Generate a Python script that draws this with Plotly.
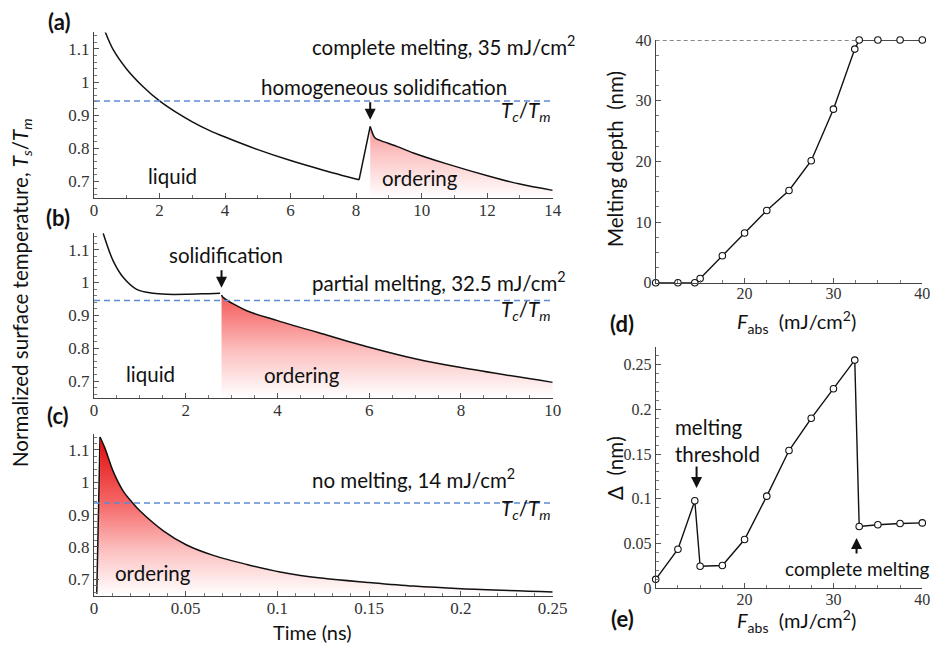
import plotly.graph_objects as go

# page body has an 8 px margin, so the figure is drawn 8 px in from the top-left corner
OFF = 8
W, H = 930, 640

# ---------------- data ----------------
# (a) complete melting
a_liq_t = [0.34, 0.59, 1.0, 1.5, 2.0, 2.5, 3.0, 3.5, 4.0, 5.0, 6.0, 7.0, 8.09]
a_liq_v = [1.152, 1.097, 1.039, 0.986, 0.943, 0.909, 0.880, 0.855, 0.834, 0.796, 0.763, 0.734, 0.705]
a_jump_t = [8.09, 8.43]
a_jump_v = [0.705, 0.866]
a_ord_t = [8.43, 8.58, 8.73, 9.24, 9.75, 10.77, 12.09, 13.0, 14.0]
a_ord_v = [0.866, 0.831, 0.824, 0.806, 0.786, 0.753, 0.715, 0.692, 0.673]
a_tc = 0.943

# (b) partial melting
b_liq_t = [0.2, 0.42, 0.64, 0.93, 1.29, 1.58, 2.0, 2.5, 2.75]
b_liq_v = [1.15, 1.065, 1.015, 0.979, 0.967, 0.964, 0.964, 0.966, 0.967]
b_ord_t = [2.78, 2.82, 3.33, 4.0, 5.0, 6.0, 7.0, 8.0, 10.0]
b_ord_v = [0.962, 0.954, 0.914, 0.884, 0.843, 0.803, 0.768, 0.741, 0.696]
b_tc = 0.945

# (c) no melting
c_rise_t = [0.0015, 0.0033]
c_rise_v = [0.655, 1.14]
c_ord_t = [0.0033, 0.006, 0.0105, 0.016, 0.0205, 0.025, 0.0378, 0.0502, 0.065,
           0.0833, 0.1014, 0.125, 0.15, 0.174, 0.2, 0.25]
c_ord_v = [1.14, 1.105, 1.033, 0.972, 0.94, 0.912, 0.850, 0.807, 0.774,
           0.746, 0.723, 0.703, 0.69, 0.679, 0.671, 0.661]
c_tc = 0.936

# (d), (e) versus absorbed fluence
fluence = [10, 12.5, 14.4, 15, 17.5, 20, 22.5, 25, 27.5, 30, 32.4, 32.9, 35, 37.5, 40]
melt_depth = [0, 0, 0, 0.7, 4.45, 8.2, 11.9, 15.2, 20.1, 28.6, 38.5, 40, 40, 40, 40]
delta_nm = [0.01, 0.0437, 0.0978, 0.0246, 0.0254, 0.0545, 0.103, 0.154, 0.19,
            0.223, 0.255, 0.069, 0.071, 0.0724, 0.0731]
film_thickness = 40
film_dash_x = [10, 32.9]

# ---------------- styles ----------------
SANS = "Lato"
SERIF = "Liberation Serif, Times New Roman, serif"
CURVE = "#111111"
TC_COLOR = "#5b8bd4"
grad = dict(type="vertical", start=0.65, stop=1.12,
            colorscale=[[0, "rgba(255,255,255,1)"], [0.3, "rgb(252,192,192)"],
                        [0.6, "rgb(246,105,105)"], [1, "rgb(226,18,18)"]])

def px_x(p):
    return (p - OFF) / W

def px_y(p):
    return 1 - (p - OFF) / H

fig = go.Figure()

def line(x, y, xa, ya, shape="spline", fill=None, width=1.5, color=CURVE, dash=None):
    kw = {}
    if fill:
        kw = dict(fill="tozeroy", fillgradient=grad)
    fig.add_trace(go.Scatter(x=x, y=y, xaxis=xa, yaxis=ya, mode="lines",
                             line=dict(color=color, width=width, shape=shape,
                                       smoothing=0.9, dash=dash),
                             hoverinfo="skip", showlegend=False, **kw))

# (a)
line(a_ord_t, a_ord_v, "x", "y", fill=True)
line(a_liq_t, a_liq_v, "x", "y")
line(a_jump_t, a_jump_v, "x", "y", shape="linear")
line([0, 14], [a_tc, a_tc], "x", "y", shape="linear", color=TC_COLOR, dash="6px,4px")
# (b)
line(b_ord_t, b_ord_v, "x2", "y2", fill=True)
line(b_liq_t, b_liq_v, "x2", "y2")
line([0, 10], [b_tc, b_tc], "x2", "y2", shape="linear", color=TC_COLOR, dash="6px,4px")
# (c)
line(c_rise_t, c_rise_v, "x3", "y3", shape="linear", fill=True)
line(c_ord_t, c_ord_v, "x3", "y3", fill=True)
line([0, 0.25], [c_tc, c_tc], "x3", "y3", shape="linear", color=TC_COLOR, dash="6px,4px")
# (d)
line(film_dash_x, [film_thickness] * 2, "x4", "y4", shape="linear", width=1.2,
     color="#111", dash="4px,3px")
marker = dict(symbol="circle", size=6.5, color="white", line=dict(color="#111", width=1.1))
fig.add_trace(go.Scatter(x=fluence, y=melt_depth, xaxis="x4", yaxis="y4",
                         mode="lines+markers", line=dict(color=CURVE, width=1.4),
                         marker=marker, cliponaxis=False, showlegend=False, hoverinfo="skip"))
# (e)
fig.add_trace(go.Scatter(x=fluence, y=delta_nm, xaxis="x5", yaxis="y5",
                         mode="lines+markers", line=dict(color=CURVE, width=1.4),
                         marker=marker, cliponaxis=False, showlegend=False, hoverinfo="skip"))


def axis(domain, rng, dtick, minor_dtick, anchor, tick0=None, tickvals=None, minor_tick0=None,
         fs=17, standoff=0):
    d = dict(domain=domain, range=rng, anchor=anchor, showline=True, linecolor="#444",
             linewidth=1, ticks="inside", ticklen=5, tickcolor="#555", tickwidth=1,
             automargin=False, showgrid=False, zeroline=False, ticklabelstandoff=standoff,
             tickfont=dict(family=SERIF, size=fs, color="#333"),
             minor=dict(ticks="inside", ticklen=3, tickcolor="#777", tickwidth=1,
                        dtick=minor_dtick, showgrid=False))
    if minor_tick0 is not None:
        d["minor"]["tick0"] = minor_tick0
    if tickvals is not None:
        d["tickmode"] = "array"
        d["tickvals"] = tickvals
    else:
        d["dtick"] = dtick
        if tick0 is not None:
            d["tick0"] = tick0
    return d

XL = [px_x(94), px_x(552.7)]
XR = [px_x(655.7), px_x(922.3)]
fig.update_layout(
    xaxis=axis(XL, [0, 14], 2, 1, "y", standoff=-3),
    yaxis=axis([px_y(198), px_y(32.4)], [0.65, 1.15], 0.1, 0.02, "x", tick0=0.7),
    xaxis2=axis(XL, [0, 10], 2, 0.5, "y2", standoff=-3),
    yaxis2=axis([px_y(397.5), px_y(233.2)], [0.65, 1.15], 0.1, 0.02, "x2", tick0=0.7),
    xaxis3=axis(XL, [0, 0.25], 0.05, 0.01, "y3", standoff=-3),
    yaxis3=axis([px_y(595.5), px_y(433.8)], [0.65, 1.15], 0.1, 0.02, "x3", tick0=0.7),
    xaxis4=axis(XR, [10, 40], None, 2.5, "y4", tickvals=[20, 30, 40], minor_tick0=10,
                fs=16, standoff=-4),
    yaxis4=axis([px_y(282.7), px_y(40)], [0, 40], 10, 2.5, "x4", fs=16),
    xaxis5=axis(XR, [10, 40], None, 2.5, "y5", tickvals=[20, 30, 40], minor_tick0=10,
                fs=16, standoff=-4),
    yaxis5=axis([px_y(588.3), px_y(346.7)], [0, 0.27], 0.05, 0.01, "x5", fs=16),
)

ann = []

def text(t, x, y, size=20.5, xanchor="center", angle=0, bold=False, align="center",
         color="#111"):
    ann.append(dict(text=t, x=px_x(x), y=px_y(y),
                    xref="paper", yref="paper", showarrow=False, xanchor=xanchor,
                    yanchor="middle", textangle=angle, align=align,
                    font=dict(family=SANS, size=size, color=color,
                              weight=("bold" if bold else "normal"))))

def arrow(x, y, xr, yr, ay):
    ann.append(dict(text="", x=x, y=y, xref=xr, yref=yr, ax=0, ay=ay, showarrow=True,
                    arrowhead=2, arrowsize=1.1, arrowwidth=2, arrowcolor="#111"))

TCM = "<i>T<sub>c</sub></i>/<i>T<sub>m</sub></i>"
# shared titles
text("Normalized surface temperature, <i>T<sub>s</sub></i>/<i>T<sub>m</sub></i>", 21, 293,
     size=20.5, angle=-90)
text("Time (ns)", 312, 632, size=20)
# panel labels
text("(a)", 59, 22, size=22, bold=True)
text("(b)", 58, 217, size=22, bold=True)
text("(c)", 58, 415, size=22, bold=True)
text("(d)", 622, 323, size=22, bold=True)
text("(e)", 622, 618, size=22, bold=True)
# (a)
text("complete melting, 35 mJ/cm<sup>2</sup>", 310, 45, xanchor="left")
text("homogeneous solidification", 384, 87)
text(TCM, 553, 112, xanchor="right")
text("liquid", 172, 176)
text("ordering", 420, 178)
arrow(8.43, 0.886, "x", "y", -19)
# (b)
text("solidification", 226, 255)
text("partial melting, 32.5 mJ/cm<sup>2</sup>", 310, 281, xanchor="left")
text(TCM, 553, 310, xanchor="right")
text("liquid", 150, 374)
text("ordering", 302, 375)
arrow(2.78, 0.984, "x2", "y2", -19)
# (c)
text("no melting, 14 mJ/cm<sup>2</sup>", 310, 478, xanchor="left")
text(TCM, 553, 509, xanchor="right")
text("ordering", 153, 573)
# (d)
text("Melting depth  (nm)", 615, 159, size=20.5, angle=-90)
text("<i>F</i><sub>abs</sub>  (mJ/cm<sup>2</sup>)", 796, 322, size=20)
# (e)
text("Δ  (nm)", 615, 468, size=20.5, angle=-90)
text("<i>F</i><sub>abs</sub>  (mJ/cm<sup>2</sup>)", 796, 621, size=20)
text("melting<br>threshold", 673, 440, xanchor="left", align="left")
text("complete melting", 857, 568, size=19)
arrow(14.6, 0.112, "x5", "y5", -23)
arrow(32.6, 0.0563, "x5", "y5", 17)

fig.update_layout(width=W, height=H, autosize=False,
                  font=dict(family=SERIF, size=17, color="#333"),
                  margin=dict(l=0, r=0, t=0, b=0, pad=0, autoexpand=False),
                  paper_bgcolor="white", plot_bgcolor="white", annotations=ann,
                  showlegend=False)

fig.write_html("out.html")
